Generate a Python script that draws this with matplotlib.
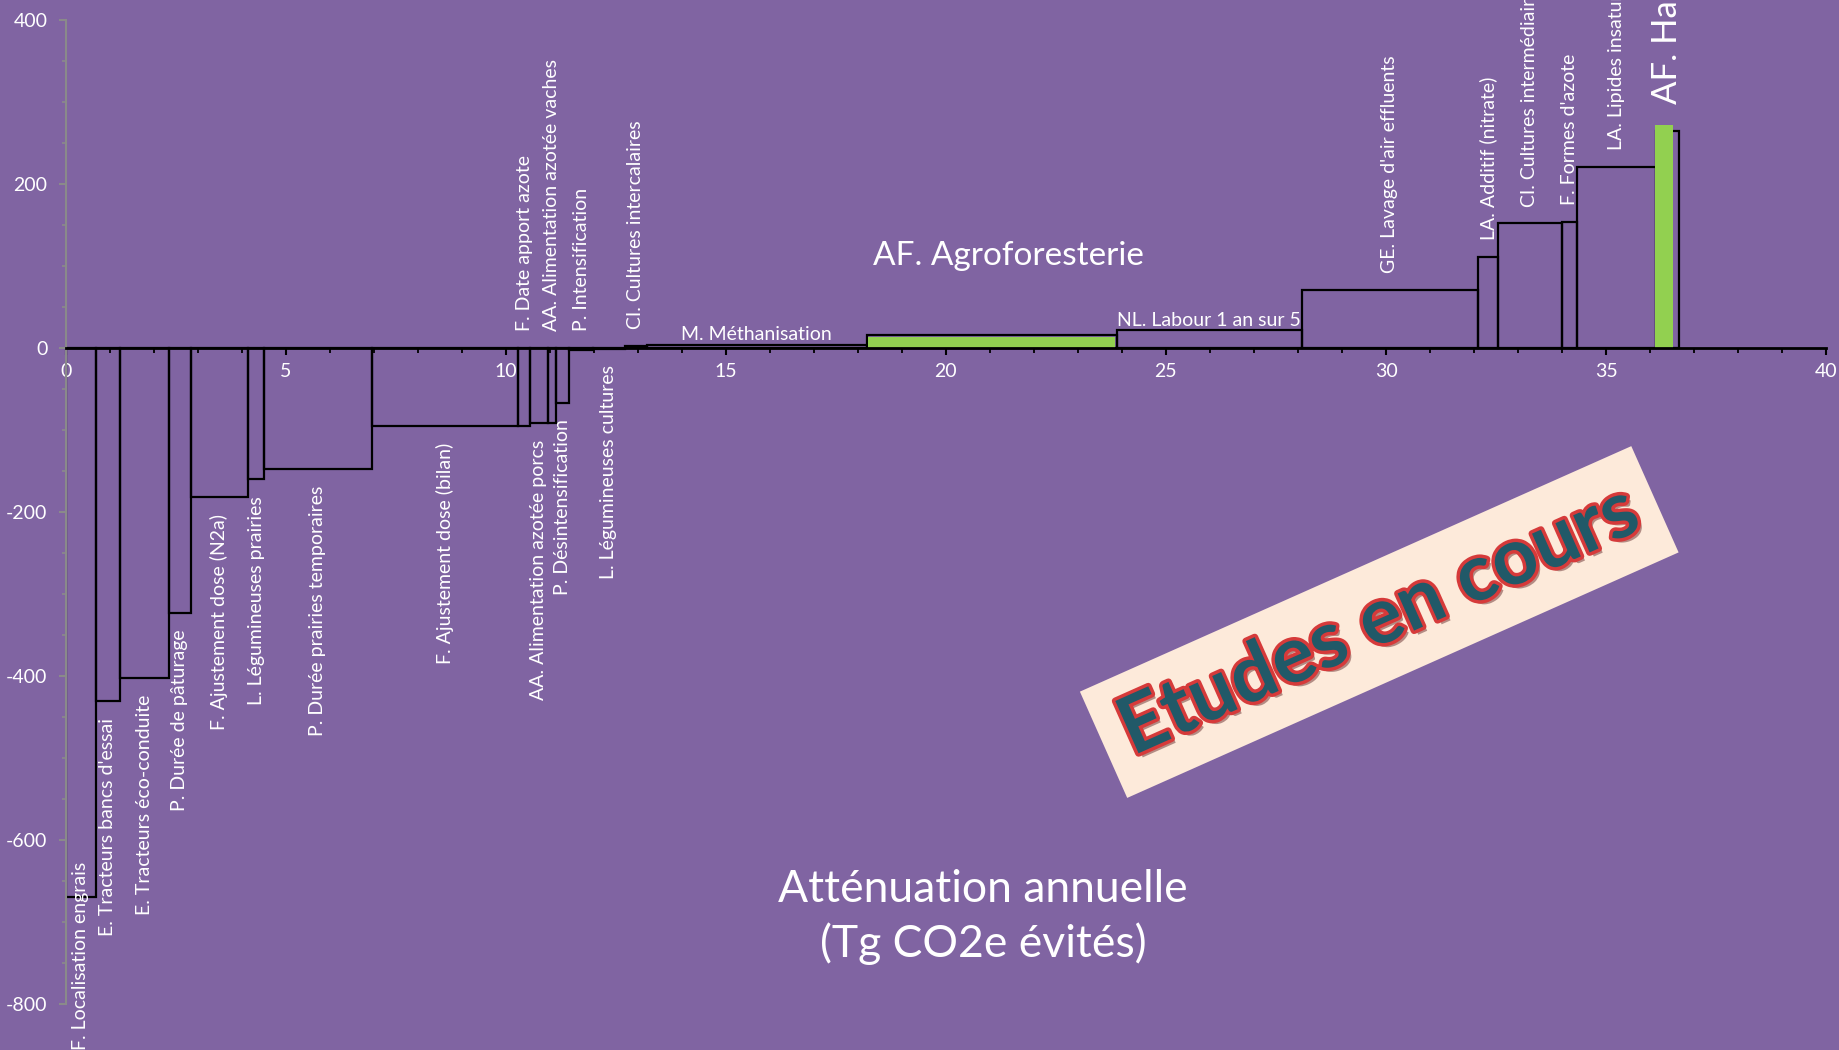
import numpy as np
import matplotlib.pyplot as plt
from matplotlib import patheffects as pe

plt.rcParams['font.family'] = ['Lato', 'DejaVu Sans']
plt.rcParams['axes.unicode_minus'] = False

# Mitigation actions, in order of cost (MACC)
labels = [
    "F. Localisation engrais", "E. Tracteurs bancs d'essai", "E. Tracteurs éco-conduite",
    "P. Durée de pâturage", "F. Ajustement dose (N2a)", "L. Légumineuses prairies",
    "P. Durée prairies temporaires", "F. Ajustement dose (bilan)", "F. Date apport azote",
    "AA. Alimentation azotée porcs", "AA. Alimentation azotée vaches", "P. Désintensification",
    "P. Intensification", "L. Légumineuses cultures", "CI. Cultures intercalaires",
    "M. Méthanisation", "AF. Agroforesterie", "NL. Labour 1 an sur 5",
    "GE. Lavage d'air effluents", "LA. Additif (nitrate)", "CI. Cultures intermédiaires",
    "F. Formes d'azote", "LA. Lipides insaturés", "AF. Haies",
]
# abatement potential (Tg CO2e) = bar widths
potential = [0.68, 0.55, 1.11, 0.50, 1.30, 0.37, 2.44, 3.33, 0.27, 0.41, 0.17, 0.30,
             0.56, 0.71, 0.50, 5.00, 5.68, 4.20, 4.01, 0.45, 1.45, 0.34, 1.80, 0.53]
# cost (€/t CO2e) = bar heights
cost = [-670, -431, -402, -323, -182, -160, -147, -95, -95, -91, -91, -67,
        -3, -1, 2.5, 4, 15.5, 22, 71, 111, 152, 154, 221, 264]
# where the label goes: -1 below, 1 above, 0 flat on top, 2 big flat, 3 big vertical
label_pos = [-1, -1, -1, -1, -1, -1, -1, -1, 1, -1, 1, -1, 1, -1, 1,
             0, 2, 0, 1, 1, 1, 1, 1, 3]

# green highlights (agroforestry studies)
hl_start = [18.24, 36.12]
hl_width = [5.60, 0.39]
hl_height = [13.5, 272]

bg = '#8064A2'
green = '#92D050'
fs = 14

left = np.concatenate([[0], np.cumsum(potential)[:-1]])
centers = left + np.array(potential) / 2

fig = plt.figure(figsize=(18.39, 10.5), dpi=100, facecolor=bg)
ax = fig.add_axes([0.0357, 0.0438, 0.9573, 0.9372], facecolor=bg)

ax.bar(left, cost, width=potential, align='edge', facecolor='none',
       edgecolor='black', linewidth=1.6, zorder=1)
ax.bar(hl_start, hl_height, width=hl_width, align='edge', color=green,
       linewidth=0, zorder=1.2)

ax.set_xlim(0, 40)
ax.set_ylim(-800, 400)

# axes styling, Excel-like
for s in ['top', 'right']:
    ax.spines[s].set_visible(False)
ax.spines['bottom'].set_position(('data', 0))
ax.spines['bottom'].set_color('black')
ax.spines['bottom'].set_linewidth(2)
ax.spines['left'].set_color('#8a8a8a')
ax.spines['left'].set_linewidth(1.5)

ax.set_xticks(np.arange(0, 41, 5))
ax.set_xticks(np.arange(0, 41, 1), minor=True)
ax.set_yticks(np.arange(-800, 401, 200))
ax.set_yticks(np.arange(-800, 401, 50), minor=True)
ax.tick_params(axis='x', which='major', direction='out', length=5, width=1.5,
               color='black', labelcolor='white', labelsize=fs, pad=6)
ax.tick_params(axis='x', which='minor', direction='out', length=3.5, width=1.3,
               color='black')
ax.tick_params(axis='y', which='major', direction='out', length=5, width=1.5,
               color='#8a8a8a', labelcolor='white', labelsize=fs, pad=8)
ax.tick_params(axis='y', which='minor', direction='out', length=3, width=1.2,
               color='#8a8a8a')

lowest = int(np.argmin(cost))
for i, lab in enumerate(labels):
    xc, h, kind = centers[i], cost[i], label_pos[i]
    if kind == -1:
        if i == lowest:
            # pushed up so it stays inside the chart area
            ax.annotate(lab, xy=(xc, 0), xycoords=('data', 'figure fraction'),
                        rotation=90, ha='center', va='bottom', color='white',
                        fontsize=fs, annotation_clip=False)
        else:
            ax.annotate(lab, xy=(xc, min(h, 0)), xytext=(0, -12),
                        textcoords='offset points', rotation=90, ha='center',
                        va='top', color='white', fontsize=fs)
    elif kind == 1:
        ax.annotate(lab, xy=(xc, max(h, 0)), xytext=(0, 12),
                    textcoords='offset points', rotation=90, ha='center',
                    va='bottom', color='white', fontsize=fs, annotation_clip=False)
    elif kind == 0:
        ax.annotate(lab, xy=(xc, h), xytext=(0, 1), textcoords='offset points',
                    ha='center', va='bottom', color='white', fontsize=fs)
    elif kind == 2:
        ax.annotate(lab, xy=(xc, h), xytext=(12, 46), textcoords='offset points',
                    ha='center', va='bottom', color='white', fontsize=24)
    elif kind == 3:
        ax.annotate(lab, xy=(xc, h), xytext=(0, 20), textcoords='offset points',
                    rotation=90, ha='center', va='bottom', color='white',
                    fontsize=25, annotation_clip=False)

# axis title inside the plot
ax.text(20.84, -694, "Atténuation annuelle\n(Tg CO2e évités)", ha='center',
        va='center', color='white', fontsize=32, linespacing=1.35)

# "work in progress" stamp
fig.text(0.750, 0.4076, "Etudes en cours", rotation=24, rotation_mode='anchor',
         ha='center', va='center', fontsize=57, fontweight='bold', color='#215968',
         bbox=dict(boxstyle='square,pad=0.28', fc='#FDEADA', ec='none'),
         path_effects=[pe.withSimplePatchShadow(offset=(3, -3), shadow_rgbFace='#6b3030', alpha=0.5),
                       pe.withStroke(linewidth=5, foreground='#D63A3A')])

fig.savefig('out.png', dpi=100, facecolor=bg)
